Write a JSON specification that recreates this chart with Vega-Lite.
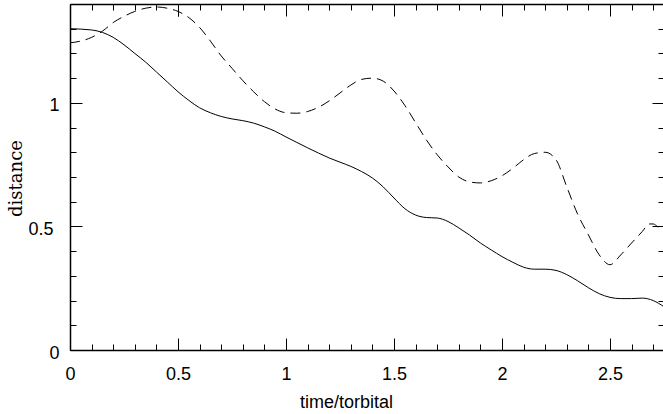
{
  "$schema": "https://vega.github.io/schema/vega-lite/v6.json",
  "width": 594,
  "height": 346,
  "autosize": {"type": "none"},
  "padding": {"left": 70, "top": 4, "right": 0, "bottom": 64},
  "config": {
    "view": {"stroke": null},
    "axis": {"grid": false, "tickColor": "black", "domainColor": "black", "domainWidth": 1.5, "tickWidth": 1, "labelColor": "black", "titleColor": "black", "labelFont": "Liberation Sans", "titleFont": "Liberation Sans", "labelFontSize": 18, "titleFontSize": 18, "titleFontWeight": "normal", "labelFlush": false, "labelOverlap": false}
  },
  "datasets": {
    "solid": [
      {"t": 0, "d": 1.30}, {"t": 0.1, "d": 1.295}, {"t": 0.15, "d": 1.285}, {"t": 0.2, "d": 1.265}, {"t": 0.25, "d": 1.235},
      {"t": 0.3, "d": 1.20}, {"t": 0.35, "d": 1.165}, {"t": 0.4, "d": 1.125}, {"t": 0.45, "d": 1.085}, {"t": 0.5, "d": 1.045},
      {"t": 0.55, "d": 1.01}, {"t": 0.6, "d": 0.98}, {"t": 0.65, "d": 0.96}, {"t": 0.7, "d": 0.945}, {"t": 0.75, "d": 0.935},
      {"t": 0.8, "d": 0.928}, {"t": 0.85, "d": 0.918}, {"t": 0.9, "d": 0.903}, {"t": 0.95, "d": 0.885}, {"t": 1.0, "d": 0.862},
      {"t": 1.05, "d": 0.84}, {"t": 1.1, "d": 0.818}, {"t": 1.15, "d": 0.797}, {"t": 1.2, "d": 0.777}, {"t": 1.25, "d": 0.76},
      {"t": 1.3, "d": 0.743}, {"t": 1.35, "d": 0.722}, {"t": 1.4, "d": 0.696}, {"t": 1.45, "d": 0.66}, {"t": 1.5, "d": 0.615},
      {"t": 1.55, "d": 0.572}, {"t": 1.6, "d": 0.546}, {"t": 1.65, "d": 0.536}, {"t": 1.7, "d": 0.534}, {"t": 1.75, "d": 0.52},
      {"t": 1.8, "d": 0.494}, {"t": 1.85, "d": 0.465}, {"t": 1.9, "d": 0.433}, {"t": 1.95, "d": 0.405}, {"t": 2.0, "d": 0.378},
      {"t": 2.05, "d": 0.355}, {"t": 2.1, "d": 0.335}, {"t": 2.15, "d": 0.327}, {"t": 2.2, "d": 0.327}, {"t": 2.25, "d": 0.322},
      {"t": 2.3, "d": 0.305}, {"t": 2.35, "d": 0.28}, {"t": 2.4, "d": 0.252}, {"t": 2.45, "d": 0.228}, {"t": 2.5, "d": 0.213},
      {"t": 2.55, "d": 0.208}, {"t": 2.6, "d": 0.208}, {"t": 2.65, "d": 0.21}, {"t": 2.7, "d": 0.2}, {"t": 2.75, "d": 0.175}
    ],
    "dashed": [
      {"t": 0, "d": 1.243}, {"t": 0.05, "d": 1.25}, {"t": 0.1, "d": 1.265}, {"t": 0.15, "d": 1.29}, {"t": 0.2, "d": 1.325},
      {"t": 0.25, "d": 1.35}, {"t": 0.3, "d": 1.37}, {"t": 0.35, "d": 1.383}, {"t": 0.4, "d": 1.388}, {"t": 0.45, "d": 1.383},
      {"t": 0.5, "d": 1.37}, {"t": 0.55, "d": 1.345}, {"t": 0.6, "d": 1.305}, {"t": 0.65, "d": 1.25}, {"t": 0.7, "d": 1.19},
      {"t": 0.75, "d": 1.14}, {"t": 0.8, "d": 1.09}, {"t": 0.85, "d": 1.045}, {"t": 0.9, "d": 1.005}, {"t": 0.95, "d": 0.975},
      {"t": 1.0, "d": 0.96}, {"t": 1.05, "d": 0.958}, {"t": 1.1, "d": 0.965}, {"t": 1.15, "d": 0.982}, {"t": 1.2, "d": 1.008},
      {"t": 1.25, "d": 1.04}, {"t": 1.3, "d": 1.072}, {"t": 1.35, "d": 1.095}, {"t": 1.4, "d": 1.10}, {"t": 1.45, "d": 1.088},
      {"t": 1.5, "d": 1.048}, {"t": 1.55, "d": 0.99}, {"t": 1.6, "d": 0.92}, {"t": 1.65, "d": 0.85}, {"t": 1.7, "d": 0.79},
      {"t": 1.75, "d": 0.741}, {"t": 1.8, "d": 0.70}, {"t": 1.85, "d": 0.68}, {"t": 1.9, "d": 0.676}, {"t": 1.95, "d": 0.685},
      {"t": 2.0, "d": 0.705}, {"t": 2.05, "d": 0.735}, {"t": 2.1, "d": 0.77}, {"t": 2.15, "d": 0.795}, {"t": 2.2, "d": 0.80},
      {"t": 2.25, "d": 0.77}, {"t": 2.3, "d": 0.66}, {"t": 2.35, "d": 0.55}, {"t": 2.4, "d": 0.466}, {"t": 2.45, "d": 0.385},
      {"t": 2.5, "d": 0.345}, {"t": 2.55, "d": 0.385}, {"t": 2.6, "d": 0.433}, {"t": 2.65, "d": 0.48}, {"t": 2.68, "d": 0.51},
      {"t": 2.7, "d": 0.51}, {"t": 2.73, "d": 0.495}, {"t": 2.75, "d": 0.495}
    ]
  },
  "resolve": {"axis": {"x": "independent", "y": "independent"}},
  "layer": [
    {
      "data": {"name": "solid"},
      "mark": {"type": "line", "color": "black", "strokeWidth": 1, "interpolate": "monotone", "clip": true},
      "encoding": {
        "x": {"field": "t", "type": "quantitative", "scale": {"domain": [0, 2.75], "nice": false, "zero": false},
          "axis": {"orient": "bottom", "values": [0, 0.5, 1, 1.5, 2, 2.5], "tickSize": -12, "labelPadding": 41, "labelBaseline": "alphabetic", "format": "~g", "domain": true,
            "title": "time/torbital", "titleX": 276, "titleY": 57, "titleBaseline": "alphabetic", "titleAnchor": "middle", "titleAlign": "center"}},
        "y": {"field": "d", "type": "quantitative", "scale": {"domain": [0, 1.4], "nice": false, "zero": false},
          "axis": {"orient": "left", "values": [0, 1], "tickSize": -12, "labelPadding": 23, "labelAlign": "right", "labelBaseline": "middle", "labelOffset": 3, "format": "~g", "domain": true,
            "title": "distance", "titleFont": "DejaVu Serif", "titleFontSize": 18, "titleAngle": 270, "titleX": -49, "titleY": 174, "titleBaseline": "alphabetic", "titleAlign": "center", "titleAnchor": "middle"}}
      }
    },
    {
      "data": {"name": "dashed"},
      "mark": {"type": "line", "color": "black", "strokeWidth": 1, "strokeDash": [10, 6], "interpolate": "monotone", "clip": true},
      "encoding": {
        "x": {"field": "t", "type": "quantitative",
          "axis": {"orient": "bottom", "values": [0, 0.1, 0.2, 0.3, 0.4, 0.5, 0.6, 0.7, 0.8, 0.9, 1, 1.1, 1.2, 1.3, 1.4, 1.5, 1.6, 1.7, 1.8, 1.9, 2, 2.1, 2.2, 2.3, 2.4, 2.5, 2.6, 2.7], "tickSize": -6, "labels": false, "domain": false, "title": null}},
        "y": {"field": "d", "type": "quantitative",
          "axis": {"orient": "left", "values": [0, 0.1, 0.2, 0.3, 0.4, 0.5, 0.6, 0.7, 0.8, 0.9, 1, 1.1, 1.2, 1.3, 1.4], "tickSize": -6, "labels": false, "domain": false, "title": null}}
      }
    },
    {
      "data": {"name": "solid"},
      "mark": {"type": "line", "opacity": 0},
      "encoding": {
        "x": {"field": "t", "type": "quantitative",
          "axis": {"orient": "top", "values": [0, 0.5, 1, 1.5, 2, 2.5], "tickSize": -12, "labels": false, "domain": true, "title": null}},
        "y": {"field": "d", "type": "quantitative",
          "axis": {"orient": "right", "values": [0, 0.5, 1], "tickSize": -12, "labels": false, "domain": false, "title": null}}
      }
    },
    {
      "data": {"name": "solid"},
      "mark": {"type": "line", "opacity": 0},
      "encoding": {
        "x": {"field": "t", "type": "quantitative",
          "axis": {"orient": "top", "values": [0, 0.1, 0.2, 0.3, 0.4, 0.5, 0.6, 0.7, 0.8, 0.9, 1, 1.1, 1.2, 1.3, 1.4, 1.5, 1.6, 1.7, 1.8, 1.9, 2, 2.1, 2.2, 2.3, 2.4, 2.5, 2.6, 2.7], "tickSize": -6, "labels": false, "domain": false, "title": null}},
        "y": {"field": "d", "type": "quantitative",
          "axis": {"orient": "right", "values": [0, 0.1, 0.2, 0.3, 0.4, 0.5, 0.6, 0.7, 0.8, 0.9, 1, 1.1, 1.2, 1.3, 1.4], "tickSize": -6, "labels": false, "domain": false, "title": null}}
      }
    },
    {
      "data": {"name": "solid"},
      "mark": {"type": "line", "opacity": 0},
      "encoding": {
        "x": {"field": "t", "type": "quantitative",
          "axis": {"orient": "top", "values": [0.5], "tickSize": -12, "labels": false, "domain": false, "title": null}},
        "y": {"field": "d", "type": "quantitative",
          "axis": {"orient": "left", "values": [0.5], "tickSize": -12, "labelPadding": 29, "labelAlign": "right", "labelBaseline": "middle", "labelOffset": 3, "format": "~g", "domain": false, "title": null}}
      }
    }
  ]
}
